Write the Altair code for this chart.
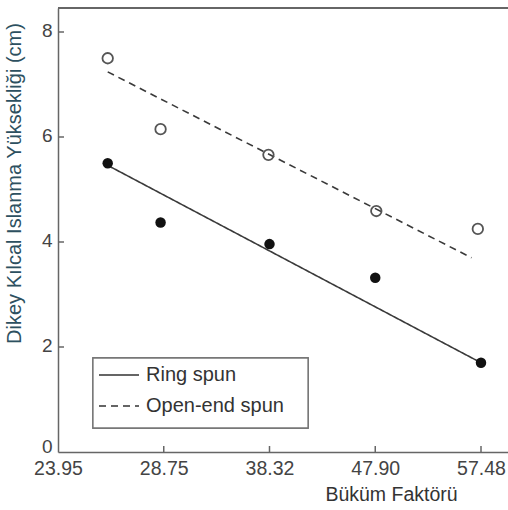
import altair as alt
import pandas as pd

# ---- data ----
ring_pos = [2.47, 2.97, 4.0, 5.0, 6.0]
ring_height = [5.50, 4.37, 3.96, 3.32, 1.70]
open_pos = [2.47, 2.97, 3.99, 5.01, 5.97]
open_height = [7.50, 6.15, 5.66, 4.59, 4.25]

series_names = ["Ring spun", "Open-end spun"]
ring_fit_pos = [2.47, 6.0]
ring_fit_height = [5.46, 1.70]
open_fit_pos = [2.47, 5.91]
open_fit_height = [7.24, 3.70]

x_tick_pos = [2, 3, 4, 5, 6]
x_tick_labels = ["23.95", "28.75", "38.32", "47.90", "57.48"]
y_ticks = [0, 2, 4, 6, 8]

x_title = "Büküm Faktörü"
y_title = "Dikey Kılcal Islanma Yüksekliği (cm)"

W, H = 450, 444
FONT = "Liberation Sans"

ring_df = pd.DataFrame({"pos": ring_pos, "height": ring_height})
open_df = pd.DataFrame({"pos": open_pos, "height": open_height})
fit_df = pd.DataFrame({
    "pos": ring_fit_pos + open_fit_pos,
    "height": ring_fit_height + open_fit_height,
    "series": [series_names[0]] * 2 + [series_names[1]] * 2,
})
xtick_df = pd.DataFrame({"pos": x_tick_pos[1:]})
ytick_df = pd.DataFrame({"height": y_ticks[1:]})

label_arr = "[" + ",".join("'%s'" % s for s in x_tick_labels) + "]"

x_axis = alt.Axis(
    values=x_tick_pos, labelExpr=label_arr + "[round(datum.value) - 2]",
    tickSize=0, labelPadding=7, grid=False,
    domainColor="#666", domainWidth=1.5,
    labelFont=FONT, labelFontSize=19.5, labelColor="#444", labelFlush=False,
    title=x_title, titleFont=FONT, titleFontSize=19.5, titleFontWeight="normal",
    titleColor="#333", titleX=333, titleY=48, titleAlign="center",
    titleBaseline="alphabetic",
)
y_axis = alt.Axis(
    values=y_ticks, format="d", tickSize=0, labelPadding=6,
    labelOffset={"condition": {"test": "datum.value === 0", "value": -6}, "value": -2},
    grid=False,
    domainColor="#666", domainWidth=1.5,
    labelFont=FONT, labelFontSize=19, labelColor="#444", labelFlush=False,
    title=y_title, titleFont=FONT, titleFontSize=20, titleFontWeight="normal",
    titleColor="#2d5060", titleX=-44, titleY=175, titleAlign="center",
    titleBaseline="middle", titleAngle=270,
)

x_enc = alt.X("pos:Q", scale=alt.Scale(domain=[2, 2 + W / 105.75], nice=False, zero=False), axis=x_axis)
y_enc = alt.Y("height:Q", scale=alt.Scale(domain=[0, H / 52.5], nice=False, zero=True), axis=y_axis)

fit_lines = alt.Chart(fit_df).mark_line(color="#3a3a3a", strokeWidth=1.6).encode(
    x=x_enc, y=y_enc,
    detail="series:N",
    strokeDash=alt.StrokeDash(
        "series:N",
        scale=alt.Scale(domain=series_names, range=[[1, 0], [7, 5]]),
        legend=alt.Legend(
            orient="none", legendX=35, legendY=341, title=None,
            symbolType="stroke", symbolSize=1600, symbolStrokeColor="#333",
            symbolStrokeWidth=1.5, labelFont=FONT, labelFontSize=20,
            labelColor="#333", labelOffset=6, strokeColor="transparent",
            padding=5, rowPadding=0,
        ),
    ),
)

# legend frame (decoration around the legend, widened as in the reference)
legend_box = alt.Chart(ytick_df).mark_rect(
    fill="white", stroke="#777", strokeWidth=1.3
).encode(x=alt.value(35), x2=alt.value(250), y=alt.value(350), y2=alt.value(420))

ring_pts = alt.Chart(ring_df).mark_circle(size=110, color="#111", opacity=1).encode(x=x_enc, y=y_enc)
open_pts = alt.Chart(open_df).mark_point(
    shape="circle", size=110, filled=False, stroke="#555", strokeWidth=1.8, opacity=1
).encode(x=x_enc, y=y_enc)

xticks = alt.Chart(xtick_df).mark_rule(color="#666", strokeWidth=1.5).encode(
    x=x_enc, y=alt.value(H - 6), y2=alt.value(H)
)
yticks = alt.Chart(ytick_df).mark_rule(color="#666", strokeWidth=1.5).encode(
    y=y_enc, x=alt.value(0), x2=alt.value(6)
)
top_line = alt.Chart(ytick_df).mark_rule(color="#666", strokeWidth=2).encode(
    x=alt.value(0), x2=alt.value(W), y=alt.value(0)
)

chart = alt.layer(top_line, xticks, yticks, legend_box, fit_lines, open_pts, ring_pts).properties(
    width=W, height=H,
    autosize=alt.AutoSizeParams(type="none"),
    padding={"left": 58, "top": 8, "right": 0, "bottom": 58},
    background="white",
).configure_view(stroke=None)

chart.save("out.html", embed_options={"renderer": "svg", "actions": False})
